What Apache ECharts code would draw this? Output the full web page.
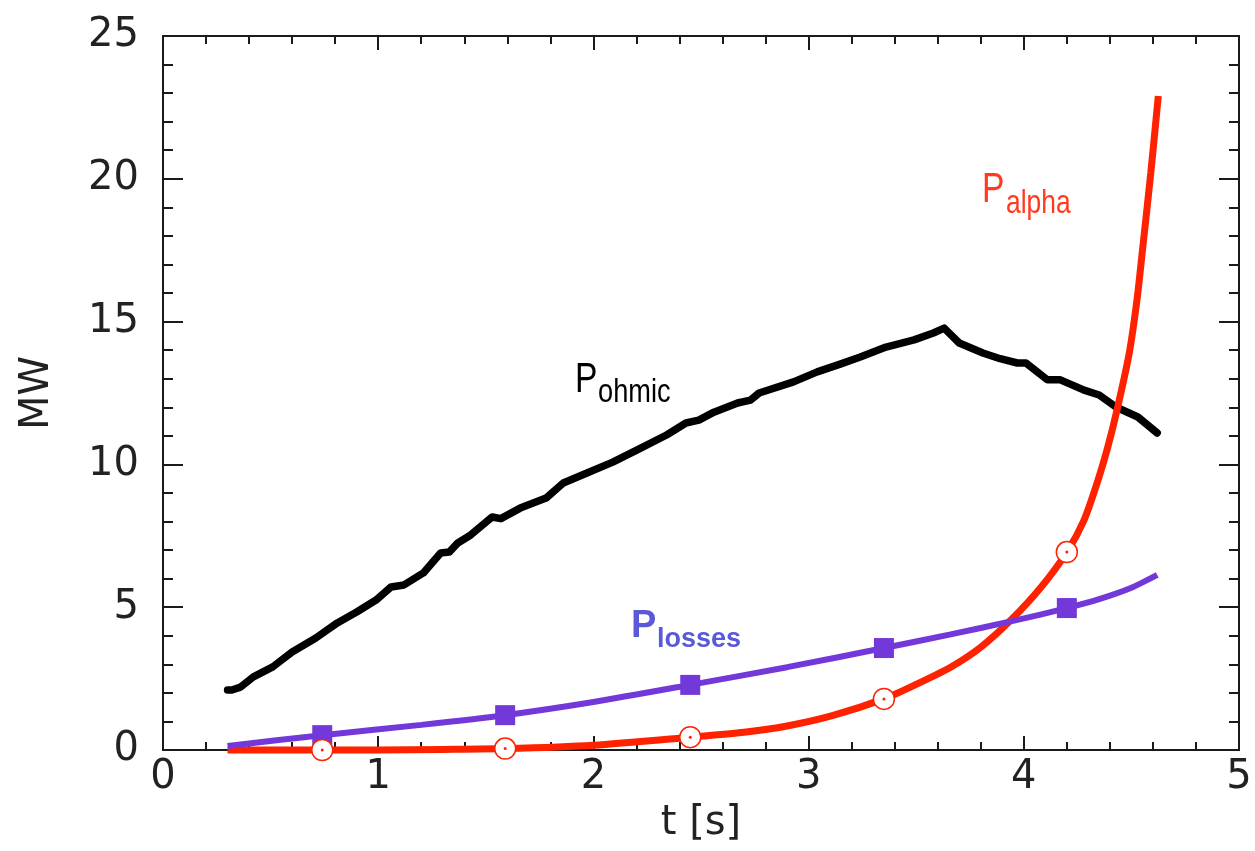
<!DOCTYPE html>
<html>
<head>
<meta charset="utf-8">
<script src="https://cdn.jsdelivr.net/npm/echarts@6/dist/echarts.min.js"></script>
<style>html,body{margin:0;padding:0;background:#fff}#c{width:1255px;height:851px}</style>
</head>
<body>
<div id="c"></div>
<script>
// ---- data ----
const tOhmic = [0.30,0.32,0.36,0.42,0.51,0.60,0.71,0.81,0.90,0.99,1.06,1.12,1.21,1.29,1.33,1.37,1.43,1.53,1.57,1.66,1.78,1.86,1.97,2.09,2.22,2.34,2.43,2.49,2.56,2.67,2.73,2.77,2.93,3.04,3.15,3.24,3.36,3.49,3.58,3.63,3.70,3.81,3.89,3.97,4.01,4.11,4.17,4.28,4.35,4.43,4.53,4.62];
const pOhmic = [2.10,2.10,2.20,2.56,2.91,3.43,3.92,4.45,4.83,5.25,5.71,5.78,6.20,6.90,6.93,7.25,7.53,8.16,8.10,8.47,8.82,9.35,9.70,10.08,10.57,11.03,11.45,11.55,11.83,12.15,12.25,12.50,12.89,13.24,13.52,13.76,14.11,14.36,14.60,14.77,14.25,13.90,13.70,13.55,13.55,12.96,12.96,12.60,12.43,12.00,11.66,11.10];

const tLosses = [0.30,0.74,1.20,1.59,2.00,2.45,2.90,3.35,3.66,3.95,4.20,4.35,4.50,4.62];
const pLosses = [0.14,0.52,0.88,1.22,1.68,2.28,2.90,3.57,4.05,4.52,4.97,5.28,5.68,6.13];

const tAlpha = [0.30,1.00,1.30,1.59,2.00,2.45,2.70,2.90,3.11,3.35,3.50,3.66,3.80,3.94,4.08,4.20,4.28,4.345,4.39,4.433,4.49,4.526,4.55,4.59,4.625];
const pAlpha = [0.00,0.00,0.02,0.05,0.17,0.45,0.62,0.84,1.20,1.79,2.30,2.90,3.60,4.55,5.70,6.93,8.05,9.45,10.6,11.9,13.9,15.76,17.4,20.2,22.9];

const tMarkers = [0.74,1.59,2.45,3.35,4.20];
const lossMarkers = [0.52,1.22,2.28,3.57,4.97];
const alphaMarkers = [0.00,0.05,0.45,1.79,6.93];

const xTicks = [0,1,2,3,4,5];
const yTicks = [0,5,10,15,20,25];

const zip = (a,b) => a.map((v,i)=>[v,b[i]]);

const chart = echarts.init(document.getElementById('c'));
const frame = '#1a1a1a';
const labelFont = {fontFamily:'DejaVu Sans', fontSize:40, color:'#222'};
function xAx(pos, show){
  return {type:'value', min:xTicks[0], max:xTicks[xTicks.length-1], interval:1, position:pos,
    axisLine:{show:true, onZero:false, lineStyle:{color:frame,width:2}},
    axisTick:{show:true, inside:true, length:14, lineStyle:{color:frame,width:2}},
    minorTick:{show:true, splitNumber:5, length:8, lineStyle:{color:frame,width:2}},
    splitLine:{show:false},
    axisLabel:Object.assign({show:show, margin:8}, labelFont),
    name: show ? 't [s]' : '', nameLocation:'middle', nameGap:54,
    nameTextStyle:{fontFamily:'DejaVu Sans', fontSize:40, color:'#222'}};
}
function yAx(pos, show){
  return {type:'value', min:yTicks[0], max:yTicks[yTicks.length-1], interval:5, position:pos,
    axisLine:{show:true, onZero:false, lineStyle:{color:frame,width:2}},
    axisTick:{show:true, inside:true, length:20, lineStyle:{color:frame,width:2}},
    minorTick:{show:true, splitNumber:5, length:10, lineStyle:{color:frame,width:2}},
    splitLine:{show:false},
    axisLabel:Object.assign({show:show, margin:24}, labelFont),
    name: show ? 'MW' : '', nameLocation:'middle', nameGap:105, nameRotate:90,
    nameTextStyle:{fontFamily:'DejaVu Sans', fontSize:40, color:'#222'}};
}

const red = '#ff2200', purple = '#7338d9';
const narrow = '"Liberation Sans", Arial, sans-serif';
chart.setOption({
  animation:false,
  grid:{left:163, right:16, top:36, bottom:101},
  xAxis:[xAx('bottom',true), xAx('top',false)],
  yAxis:[yAx('left',true), yAx('right',false)],
  series:[
    {type:'line', data:zip(tOhmic,pOhmic), showSymbol:false, clip:false, z:3,
     lineStyle:{color:'#000', width:7.5, join:'round', cap:'round'}},
    {type:'line', data:zip(tAlpha,pAlpha), showSymbol:false, clip:false, smooth:0.25, z:4,
     lineStyle:{color:red, width:7}},
    {type:'line', data:zip(tLosses,pLosses), showSymbol:false, clip:false, smooth:0.25, z:5,
     lineStyle:{color:purple, width:6}},
    {type:'scatter', data:zip(tMarkers,lossMarkers), symbol:'rect', symbolSize:20, clip:false, z:6,
     itemStyle:{color:purple, opacity:1}},
    {type:'scatter', data:zip(tMarkers,alphaMarkers), symbol:'circle', symbolSize:21, clip:false, z:6,
     itemStyle:{color:'#fff', borderColor:red, borderWidth:1.5, opacity:1}},
    {type:'scatter', data:zip(tMarkers,alphaMarkers), symbol:'circle', symbolSize:3, clip:false, z:7,
     itemStyle:{color:red, opacity:1}}
  ],
  graphic:[
    {type:'text', left:575, top:359, scaleX:0.8, style:{text:'P', font:'42px ' + narrow, fill:'#000'}},
    {type:'text', left:598, top:376, scaleX:0.8, style:{text:'ohmic', font:'34px ' + narrow, fill:'#000'}},
    {type:'text', left:982, top:169, scaleX:0.8, style:{text:'P', font:'42px ' + narrow, fill:'#ff3a1e'}},
    {type:'text', left:1006, top:187, scaleX:0.8, style:{text:'alpha', font:'33px ' + narrow, fill:'#ff3a1e'}},
    {type:'text', left:631, top:608, style:{text:'P', font:'bold 38px "Liberation Sans"', fill:'#5a5ad8'}},
    {type:'text', left:657, top:626, style:{text:'losses', font:'bold 27px "Liberation Sans"', fill:'#5a5ad8'}}
  ]
});
</script>
</body>
</html>
